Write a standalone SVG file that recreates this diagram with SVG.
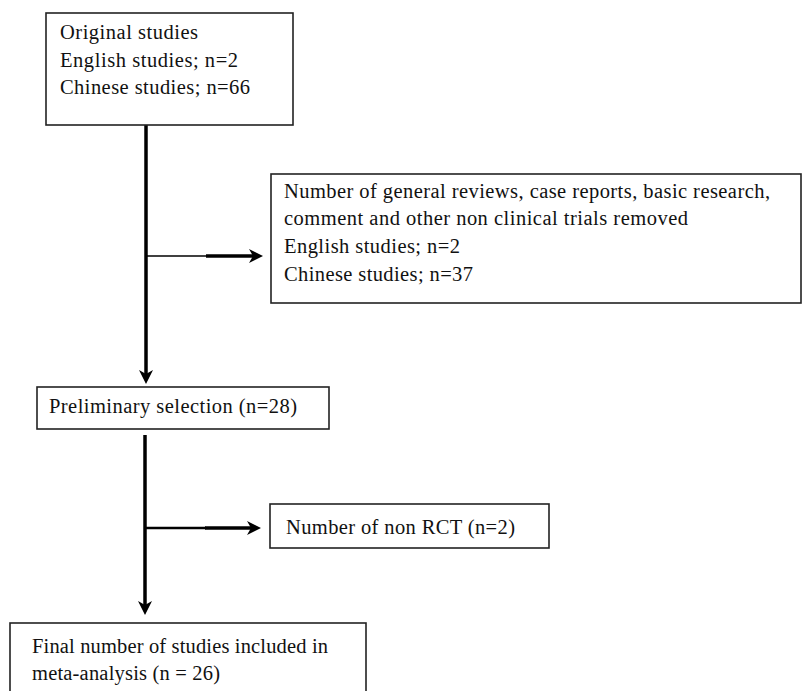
<svg xmlns="http://www.w3.org/2000/svg" width="803" height="691" viewBox="0 0 803 691">
<style>
  .box { fill: #ffffff; stroke: #222222; stroke-width: 1.6; }
  .t { font-family: "Liberation Serif", "Times New Roman", serif; font-size: 20.5px; fill: #111111; }
  .main { stroke: #000000; stroke-width: 3.5; fill: none; }
  .thin { stroke: #000000; stroke-width: 1.3; fill: none; }
  .mid { stroke: #000000; stroke-width: 2.6; fill: none; }
  .thick { stroke: #000000; stroke-width: 3.6; fill: none; }
</style>
<defs>
  <marker id="arr" viewBox="0 0 16 16" markerWidth="16" markerHeight="16" markerUnits="userSpaceOnUse" refX="7" refY="8" orient="auto">
    <path d="M1,1 L15,8 L1,15 L5,8 Z" fill="#000000"/>
  </marker>
</defs>
<rect x="0" y="0" width="803" height="691" fill="#ffffff"/>

<g id="connectors">
  <line class="main" x1="146" y1="125" x2="146" y2="376" marker-end="url(#arr)"/>
  <line class="thin" x1="146" y1="256" x2="207" y2="256"/>
  <line class="thick" x1="206" y1="256" x2="255" y2="256" marker-end="url(#arr)"/>
  <line class="main" x1="145" y1="435" x2="145" y2="607" marker-end="url(#arr)"/>
  <line class="mid" x1="145" y1="528" x2="206" y2="528"/>
  <line class="thick" x1="205" y1="528" x2="253" y2="528" marker-end="url(#arr)"/>
</g>

<g id="original">
  <rect class="box" x="46" y="13" width="247" height="112"/>
  <text class="t" x="60" y="39" textLength="138" lengthAdjust="spacing">Original studies</text>
  <text class="t" x="60" y="67" textLength="178" lengthAdjust="spacing">English studies; n=2</text>
  <text class="t" x="60" y="94" textLength="190" lengthAdjust="spacing">Chinese studies; n=66</text>
</g>

<g id="removed">
  <rect class="box" x="271" y="174" width="530" height="129"/>
  <text class="t" x="284" y="198" textLength="486" lengthAdjust="spacing">Number of general reviews, case reports, basic research,</text>
  <text class="t" x="284" y="225" textLength="404" lengthAdjust="spacing">comment and other non clinical trials removed</text>
  <text class="t" x="284" y="253" textLength="176" lengthAdjust="spacing">English studies; n=2</text>
  <text class="t" x="284" y="281" textLength="189" lengthAdjust="spacing">Chinese studies; n=37</text>
</g>

<g id="preliminary">
  <rect class="box" x="37" y="387" width="292" height="42"/>
  <text class="t" x="49" y="413" textLength="248" lengthAdjust="spacing">Preliminary selection (n=28)</text>
</g>

<g id="nonrct">
  <rect class="box" x="270" y="504" width="279" height="44"/>
  <text class="t" x="286" y="534" textLength="229" lengthAdjust="spacing">Number of non RCT (n=2)</text>
</g>

<g id="final">
  <rect class="box" x="10" y="623" width="356" height="80"/>
  <text class="t" x="32" y="653" textLength="296" lengthAdjust="spacing">Final number of studies included in</text>
  <text class="t" x="32" y="680" textLength="188" lengthAdjust="spacing">meta-analysis (n = 26)</text>
</g>
</svg>
